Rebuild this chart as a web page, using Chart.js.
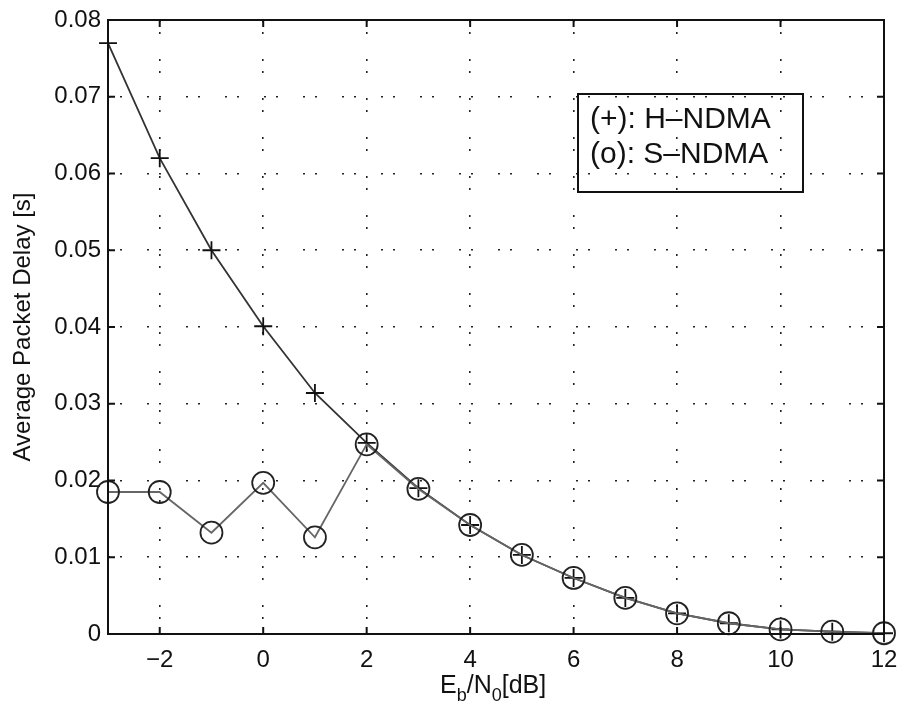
<!DOCTYPE html>
<html>
<head>
<meta charset="utf-8">
<script src="https://cdn.jsdelivr.net/npm/chart.js@4.4.1/dist/chart.umd.min.js"></script>
<style>
  html, body { margin: 0; padding: 0; background: #fff; }
  #wrap { width: 899px; height: 705px; }
</style>
</head>
<body>
<div id="wrap"><canvas id="myChart" width="899" height="705"></canvas></div>
<script>
// Eb/N0 in dB
const ebno = [-3, -2, -1, 0, 1, 2, 3, 4, 5, 6, 7, 8, 9, 10, 11, 12];
// H-NDMA (+)
const hDelay = [0.0770, 0.0620, 0.0500, 0.0401, 0.0314, 0.0249, 0.0190, 0.0142, 0.0103, 0.0073, 0.0047, 0.0027, 0.0014, 0.0006, 0.0003, 0.0001];
// S-NDMA (o)
const sDelay = [0.0185, 0.0185, 0.0132, 0.0197, 0.0126, 0.0247, 0.0189, 0.0142, 0.0103, 0.0073, 0.0047, 0.0027, 0.0014, 0.0006, 0.0003, 0.0001];
const xTicks = [-2, 0, 2, 4, 6, 8, 10, 12];
const yTicks = [0, 0.01, 0.02, 0.03, 0.04, 0.05, 0.06, 0.07, 0.08];
const legendLines = ['(+): H\u2013NDMA', '(o): S\u2013NDMA'];

const FONT = '"Liberation Sans", Arial, Helvetica, sans-serif';
const DOTS = [2, 10, 2, 25];

function toPts(ys) {
  return ebno.map((x, i) => ({x: x, y: ys[i]}));
}

// box, inward ticks, legend and x-axis title with subscripts
const matlabBits = {
  id: 'matlabBits',
  afterDraw(chart) {
    const ctx = chart.ctx;
    const a = chart.chartArea;
    const xs = chart.scales.x, ys = chart.scales.y;
    ctx.save();
    ctx.strokeStyle = '#111';
    ctx.lineWidth = 2;
    ctx.strokeRect(a.left, a.top, a.right - a.left, a.bottom - a.top);
    const tl = 7;
    ctx.beginPath();
    xTicks.forEach(v => {
      const px = xs.getPixelForValue(v);
      ctx.moveTo(px, a.bottom); ctx.lineTo(px, a.bottom - tl);
      ctx.moveTo(px, a.top); ctx.lineTo(px, a.top + tl);
    });
    yTicks.forEach(v => {
      const py = ys.getPixelForValue(v);
      ctx.moveTo(a.left, py); ctx.lineTo(a.left + tl, py);
      ctx.moveTo(a.right, py); ctx.lineTo(a.right - tl, py);
    });
    ctx.stroke();

    // legend box (transparent, grid shows through like the original)
    ctx.lineWidth = 2;
    ctx.strokeRect(578, 94, 225, 98);
    ctx.fillStyle = '#111';
    ctx.font = '30px ' + FONT;
    ctx.textBaseline = 'alphabetic';
    ctx.textAlign = 'left';
    ctx.fillText(legendLines[0], 590, 128);
    ctx.fillText(legendLines[1], 590, 163);

    // x title: E_b/N_0[dB]
    const y0 = 693;
    const big = '25px ' + FONT, small = '18px ' + FONT;
    const parts = [['E', big, 0], ['b', small, 8], ['/N', big, 0], ['0', small, 8], ['[dB]', big, 0]];
    let cx = 440;
    parts.forEach(p => {
      ctx.font = p[1];
      ctx.fillText(p[0], cx, y0 + p[2]);
      cx += ctx.measureText(p[0]).width;
    });
    ctx.restore();
  }
};

const ctx = document.getElementById('myChart').getContext('2d');
new Chart(ctx, {
  type: 'line',
  data: {
    datasets: [
      {
        label: 'S-NDMA',
        data: toPts(sDelay),
        borderColor: '#666',
        borderWidth: 1.8,
        pointStyle: 'circle',
        pointRadius: 11,
        pointBorderWidth: 1.8,
        pointBorderColor: '#222',
        pointBackgroundColor: 'rgba(0,0,0,0)',
        clip: false,
        tension: 0
      },
      {
        label: 'H-NDMA',
        data: toPts(hDelay),
        borderColor: '#333',
        borderWidth: 1.8,
        pointStyle: 'cross',
        pointRadius: 9,
        pointBorderWidth: 1.8,
        pointBorderColor: '#111',
        clip: false,
        tension: 0
      }
    ]
  },
  options: {
    responsive: false,
    animation: false,
    layout: { padding: { top: 20, right: 15, left: 0, bottom: 0 } },
    plugins: {
      legend: { display: false },
      tooltip: { enabled: false }
    },
    scales: {
      x: {
        type: 'linear',
        min: -3,
        max: 12,
        afterBuildTicks: s => { s.ticks = xTicks.map(v => ({value: v})); },
        afterFit: s => { s.height = 71; s.paddingRight = 0; s.paddingLeft = 0; },
        border: { display: false, dash: DOTS },
        grid: {
          color: '#222',
          lineWidth: 1.6,
          drawTicks: false
        },
        ticks: {
          color: '#111',
          padding: 12,
          maxRotation: 0,
          font: { family: FONT, size: 24 },
          callback: v => (v < 0 ? '\u2212' + Math.abs(v) : String(v))
        }
      },
      y: {
        min: 0,
        max: 0.08,
        afterBuildTicks: s => { s.ticks = yTicks.map(v => ({value: v})); },
        afterFit: s => { s.width = 108; s.paddingTop = 0; s.paddingBottom = 0; },
        border: { display: false, dash: DOTS },
        grid: {
          color: '#222',
          lineWidth: 1.6,
          drawTicks: false
        },
        title: {
          display: true,
          text: 'Average Packet Delay [s]',
          color: '#111',
          font: { family: FONT, size: 24 },
          padding: { top: 9, bottom: 0 }
        },
        ticks: {
          color: '#111',
          padding: 7,
          font: { family: FONT, size: 24 },
          callback: v => (v === 0 ? '0' : v.toFixed(2))
        }
      }
    }
  },
  plugins: [matlabBits]
});
</script>
</body>
</html>
